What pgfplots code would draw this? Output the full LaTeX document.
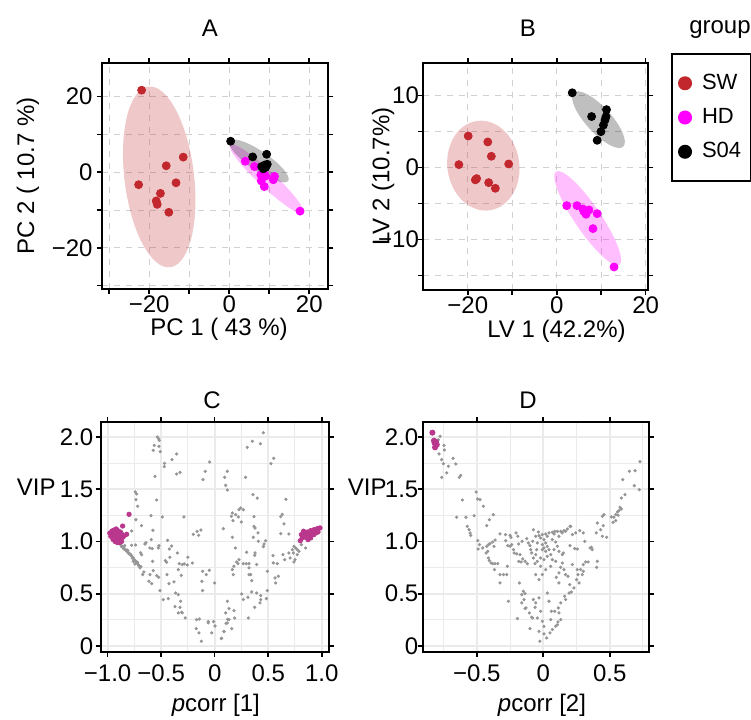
\documentclass[border=0pt]{standalone}
\usepackage{fontspec}
\setmainfont{Liberation Sans}
\usepackage{pgfplots}
\pgfplotsset{compat=1.18}

\definecolor{swred}{RGB}{193,39,45}
\definecolor{hdmag}{RGB}{255,0,255}
\definecolor{vipmag}{RGB}{185,55,140}
\definecolor{dotgray}{RGB}{150,150,150}
\definecolor{gridgray}{RGB}{235,235,235}

\newcommand{\fs}{\fontsize{12}{14}\selectfont}
% confidence ellipse: colour, centre x, centre y, semi-axis u (x,y), semi-axis v (x,y)
\newcommand{\confell}[7]{%
  \pgfplotsextra{\begin{pgfscope}
    \pgfpathellipse{\pgfplotspointaxisxy{#2}{#3}}%
      {\pgfplotspointaxisdirectionxy{#4}{#5}}{\pgfplotspointaxisdirectionxy{#6}{#7}}%
    \pgfsetfillcolor{#1}\pgfsetfillopacity{0.25}\pgfusepath{fill}%
  \end{pgfscope}}}

\pgfplotsset{
  base/.style={scale only axis, axis line style={line width=1pt},
    tick align=outside, major tick length=2.5pt, minor tick length=2.5pt,
    tick style={black, line width=0.8pt},
    tick label style={font=\fs, inner sep=1pt}, label style={font=\fs, inner sep=0pt},
    /pgf/number format/assume math mode=true},
  score/.style={base, grid=both,
    major grid style={dashed, black!18, line width=0.5pt},
    minor grid style={dashed, black!18, line width=0.5pt},
    xticklabel style={yshift=0.5pt}},
  load/.style={base, grid=both,
    major grid style={gridgray, line width=0.9pt},
    minor grid style={gridgray, line width=0.45pt}, minor tick length=0pt,
    xticklabel style={yshift=-3pt}},
}

\begin{document}
\begin{tikzpicture}[font=\fs]
\useasboundingbox (0,0) rectangle (375.5pt,359.5pt);

% ---------------- A : PCA scores
\begin{axis}[score, at={(51pt,215pt)}, anchor=south west,
  width=113.15pt, height=113pt,
  xmin=-31.8, xmax=24.75, ymin=-30.9, ymax=28.9,
  xtick={-20,0,20}, xticklabels={−20,0,20}, minor xtick={-30,-10,10},
  ytick={-20,0,20}, yticklabels={−20,0,20}, minor ytick={-30,-10,10},
  yticklabel style={xshift=-1pt},
  xlabel={PC 1 ( 43 \%)}, ylabel={PC 2 ( 10.7 \%)},
  xlabel style={at={(axis description cs:0.517,-0.18)}, anchor=center},
  ylabel style={at={(axis description cs:-0.327,0.5)}, anchor=center}]
\confell{swred}{-17.5}{-1.24}{-2.72}{23.9}{8.64}{1.11}
\confell{hdmag}{9.35}{-1.77}{9.17}{-9.08}{1.42}{1.6}
\confell{black}{7.4}{3.0}{7.33}{-5.29}{1.4}{2.1}
\addplot[only marks, mark=*, color=swred, mark size=2pt] coordinates {
(-21.9,21.7) (-11.5,4.0) (-15.75,1.7) (-22.65,-3.3) (-13.3,-2.8)
(-17.2,-5.6) (-18.25,-7.6) (-18,-8.5) (-15.1,-10.6)};
\addplot[only marks, mark=*, color=hdmag, mark size=2pt] coordinates {
(4.0,2.9) (6.3,1.5) (7.9,-0.7) (9.1,-1.0) (8.0,-2.3) (8.75,-3.8)
(11.0,-2.0) (11.3,-1.1) (17.7,-10.3) (8.6,-0.2)};
\addplot[only marks, mark=*, color=black, mark size=2pt] coordinates {
(0.35,8.2) (5.85,4.05) (9.35,4.75) (8.1,1.5) (8.9,1.9) (9.5,2.1) (8.5,0.9) (9.1,1.3)};
\end{axis}

% ---------------- B : PLS-DA scores
\begin{axis}[score, at={(211.65pt,214.5pt)}, anchor=south west,
  width=112.5pt, height=113.35pt,
  xmin=-30, xmax=20.6, ymin=-17, ymax=14.5,
  xtick={-20,0,20}, xticklabels={−20,0,20}, minor xtick={-10,10},
  ytick={-10,0,10}, yticklabels={−10,0,10}, minor ytick={-15,-5,5},
  yticklabel style={xshift=1.5pt},
  xlabel={LV 1 (42.2\%)}, ylabel={LV 2 (10.7\%)},
  xlabel style={at={(axis description cs:0.592,-0.18)}, anchor=center},
  ylabel style={at={(axis description cs:-0.178,0.5)}, anchor=center},
  legend style={at={(axis description cs:1.101,1.045)}, anchor=north west,
    draw=black, line width=1pt, font=\fontsize{11}{13}\selectfont, row sep=4pt,
    inner xsep=3pt, inner ysep=8pt, cells={anchor=west}},
  legend image code/.code={\fill (5pt,0pt) circle (3pt); \path (11pt,0pt);}]
\confell{swred}{-16.5}{0.28}{-1.5}{6.2}{8.0}{0.74}
\confell{hdmag}{6.97}{-7.03}{7.12}{-6.48}{2.42}{1.01}
\confell{black}{9.4}{6.67}{5.55}{-3.75}{2.1}{1.19}
\addplot[only marks, mark=*, color=swred, mark size=2pt] coordinates {
(-19.9,4.4) (-15.5,3.57) (-14.7,1.58) (-22.0,0.42) (-10.8,0.51)
(-18.3,-1.7) (-18.0,-1.52) (-15.3,-2.08) (-13.8,-2.87)};
\addlegendentry{SW}
\addplot[only marks, mark=*, color=hdmag, mark size=2pt] coordinates {
(2.25,-5.28) (4.56,-5.28) (5.9,-5.74) (6.13,-6.1) (6.6,-6.47)
(7.26,-5.88) (9.1,-6.39) (8.16,-8.47) (12.9,-13.8)};
\addlegendentry{HD}
\addplot[only marks, mark=*, color=black, mark size=2pt] coordinates {
(3.5,10.4) (7.85,7.1) (11.2,8.06) (11.1,7.1) (10.85,6.6) (10.5,5.9) (9.95,5.0) (9.1,3.8)};
\addlegendentry{S04}
\end{axis}

% ---------------- C : VIP vs pcorr[1]
\begin{axis}[load, at={(50.35pt,33.65pt)}, anchor=south west,
  width=114.3pt, height=114.85pt,
  xmin=-1.065, xmax=1.071, ymin=-0.055, ymax=2.144,
  xtick={-1,-0.5,0,0.5,1}, xticklabels={−1.0,−0.5,0,0.5,1.0},
  minor xtick={-0.75,-0.25,0.25,0.75},
  ytick={0,0.5,1,1.5,2}, yticklabels={0,0.5,1.0,1.5,2.0},
  minor ytick={0.25,0.75,1.25,1.75},
  xlabel={\textit{p}corr [1]}, ylabel={VIP},
  xlabel style={at={(axis description cs:0.504,-0.232)}, anchor=center},
  ylabel style={rotate=-90, at={(axis description cs:-0.282,0.717)}, anchor=center}]
\addplot[only marks, mark=*, color=dotgray, mark size=0.6pt] coordinates {
(-0.536,2.000) (-0.524,1.984) (-0.517,1.968) (-0.564,1.920) (-0.521,1.911)
(-0.574,1.873) (-0.508,1.860) (-0.355,1.838) (-0.399,1.783) (-0.468,1.748)
(-0.471,1.716) (-0.047,1.761) (-0.088,1.672) (-0.324,1.662) (-0.355,1.646)
(-0.109,1.592) (-0.558,1.624) (-0.742,1.474) (-0.729,1.455) (-0.736,1.401)
(-0.542,1.397) (-0.720,1.337) (-0.595,1.247) (-0.489,1.235) (-0.287,1.235)
(-0.736,1.209) (-0.683,1.152) (-0.128,1.110) (-0.165,1.097) (-0.200,1.069)
(-0.150,1.059) (-0.577,1.107) (-0.776,1.101)
(-0.891,0.995) (-0.879,0.970) (-0.860,0.954) (-0.848,0.938) (-0.838,0.922)
(-0.823,0.906) (-0.807,0.890) (-0.792,0.881) (-0.776,0.858) (-0.760,0.842)
(-0.751,0.826) (-0.736,0.810) (-0.729,0.794) (-0.714,0.779) (-0.760,0.810)
(-0.745,0.785) (-0.704,0.763) (-0.698,0.747) (-0.683,0.874) (-0.692,0.893)
(-0.776,0.964) (-0.739,0.967) (-0.651,0.976) (-0.642,0.989) (-0.605,0.938)
(-0.583,0.932) (-0.592,1.018) (-0.521,0.960) (-0.527,0.938) (-0.440,1.011)
(-0.402,0.957) (-0.424,0.928) (-0.461,0.817) (-0.449,0.801) (-0.418,0.849)
(-0.349,0.890) (-0.331,0.788) (-0.303,0.779) (-0.250,0.849) (-0.256,0.775)
(-0.284,0.785) (-0.580,0.810) (-0.661,0.708) (-0.673,0.683) (-0.605,0.683)
(-0.574,0.721) (-0.614,0.619) (-0.589,0.597) (-0.542,0.673) (-0.524,0.657)
(-0.511,0.530) (-0.446,0.683) (-0.427,0.597) (-0.380,0.613) (-0.340,0.731)
(-0.312,0.676) (-0.209,0.794) (-0.113,0.715) (-0.050,0.724) (-0.078,0.683)
(-0.119,0.619) (-0.113,0.530) (-0.480,0.444) (-0.433,0.453) (-0.365,0.507)
(-0.340,0.491) (-0.318,0.428) (-0.324,0.370) (-0.371,0.377) (-0.309,0.322)
(-0.340,0.316) (-0.303,0.316) (-0.275,0.268) (-0.169,0.252) (-0.144,0.258)
(-0.060,0.220) (-0.172,0.166) (-0.147,0.125) (-0.125,0.045) (-0.028,0.125)
(-0.060,0.233) (-0.010,0.233) (0.003,0.191) (0.065,0.074) (0.087,0.137)
(0.106,0.217) (0.121,0.255)
(-0.87,0.95) (-0.85,0.93) (-0.82,0.92) (-0.80,0.88) (-0.78,0.87) (-0.77,0.84)
(-0.75,0.82) (-0.72,0.80) (-0.71,0.77) (-0.69,0.76) (-0.84,0.96) (-0.81,0.91)
(0.455,2.042) (0.352,1.959) (0.427,1.936) (0.305,1.901) (0.551,1.796)
(0.526,1.745) (0.118,1.672) (0.093,1.614) (0.289,1.614) (0.103,1.538)
(0.118,1.493) (0.358,1.448) (0.398,1.416) (0.666,1.404) (0.243,1.321)
(0.268,1.305) (0.227,1.305) (0.165,1.273) (0.196,1.257) (0.156,1.241)
(0.221,1.235) (0.367,1.238) (0.632,1.260) (0.617,1.238) (0.171,1.200)
(0.249,1.187) (0.367,1.145) (0.377,1.129) (0.081,1.123) (0.648,1.168)
(0.617,1.075) (0.694,1.072) (0.405,1.082) (0.361,1.040) (0.165,1.040)
(0.476,1.008) (0.461,0.976) (0.408,1.002) (0.455,0.951) (0.193,0.938)
(0.741,0.954) (0.757,0.938) (0.772,0.922) (0.788,0.906) (0.726,0.922)
(0.735,0.890) (0.772,0.874) (0.751,0.826) (0.741,0.804) (0.704,0.842)
(0.654,0.826) (0.638,0.874) (0.694,0.890) (0.850,0.938) (0.810,0.970)
(0.299,0.897) (0.377,0.890) (0.374,0.868) (0.227,0.826) (0.205,0.804)
(0.218,0.788) (0.268,0.788) (0.296,0.788) (0.321,0.788) (0.392,0.779)
(0.180,0.763) (0.165,0.731) (0.174,0.683) (0.321,0.747) (0.336,0.683)
(0.321,0.683) (0.346,0.625) (0.492,0.715) (0.545,0.865) (0.548,0.795)
(0.585,0.788) (0.595,0.667) (0.564,0.651) (0.570,0.603) (0.252,0.498)
(0.268,0.444) (0.311,0.466) (0.346,0.517) (0.392,0.507) (0.430,0.482)
(0.430,0.444) (0.423,0.412) (0.492,0.530) (0.483,0.453) (0.374,0.370)
(0.315,0.268) (0.118,0.428) (0.134,0.358) (0.103,0.316) (0.180,0.338)
(0.187,0.268) (0.134,0.252) (0.118,0.220) (0.159,0.166) (0.087,0.140)
(0.062,0.070) (0.000,0.603)};
\addplot[only marks, mark=*, color=vipmag, mark size=1.1pt] coordinates {
(-0.96,1.10) (-0.95,1.07) (-0.97,1.05) (-0.94,1.04) (-0.93,1.09) (-0.92,1.06)
(-0.91,1.03) (-0.90,1.08) (-0.95,1.02) (-0.93,1.00) (-0.91,0.99) (-0.89,1.05)
(-0.88,1.02) (-0.87,1.07) (-0.86,1.04) (-0.89,0.99) (-0.96,1.09) (-0.94,1.11)
(-0.92,1.12) (-0.90,1.10) (-0.88,1.09) (-0.85,1.05) (-0.87,1.00) (-0.95,1.05)
(-0.98,1.08) (-0.86,1.148) (-0.80,1.26) (-0.823,1.069)
(0.81,1.066) (0.835,1.082) (0.866,1.091) (0.897,1.104) (0.928,1.113) (0.959,1.123)
(0.984,1.13) (0.819,1.034) (0.85,1.04) (0.881,1.059) (0.912,1.072) (0.944,1.082)
(0.966,1.091) (0.83,1.098) (0.86,1.05) (0.897,1.034) (0.928,1.066) (0.872,1.018)
(0.80,1.008) (0.912,1.097) (0.953,1.104) (0.844,1.066)};
\end{axis}

% ---------------- D : VIP vs pcorr[2]
\begin{axis}[load, at={(211.35pt,33.65pt)}, anchor=south west,
  width=113.15pt, height=114.85pt,
  xmin=-0.908, xmax=0.796, ymin=-0.055, ymax=2.144,
  xtick={-0.5,0,0.5}, xticklabels={−0.5,0,0.5},
  minor xtick={-0.75,-0.25,0.25,0.75},
  ytick={0,0.5,1,1.5,2}, yticklabels={0,0.5,1.0,1.5,2.0},
  minor ytick={0.25,0.75,1.25,1.75},
  yticklabel style={xshift=1.5pt},
  xlabel={\textit{p}corr [2]}, ylabel={VIP},
  xlabel style={at={(axis description cs:0.527,-0.232)}, anchor=center},
  ylabel style={rotate=-90, at={(axis description cs:-0.245,0.717)}, anchor=center}]
\addplot[only marks, mark=*, color=dotgray, mark size=0.6pt] coordinates {
(-0.777,2.007) (-0.790,1.975) (-0.797,1.933) (-0.747,1.920) (-0.745,1.876)
(-0.785,1.838) (-0.765,1.783) (-0.679,1.796) (-0.659,1.742) (-0.752,1.745)
(-0.715,1.720) (-0.727,1.656) (-0.765,1.614) (-0.632,1.614) (-0.622,1.633)
(-0.506,1.474) (-0.494,1.407) (-0.476,1.401) (-0.609,1.397) (-0.451,1.337)
(-0.652,1.232) (-0.582,1.232) (-0.521,1.247) (-0.376,1.257) (-0.406,1.209)
(-0.426,1.152) (-0.572,1.145) (-0.559,1.113) (-0.551,1.082) (-0.546,1.059)
(-0.494,1.008) (-0.481,0.970) (-0.456,0.938) (-0.491,0.928) (-0.426,0.954)
(-0.413,0.970) (-0.401,0.979) (-0.381,0.995) (-0.363,1.014) (-0.371,0.954)
(-0.418,0.906) (-0.431,0.890) (-0.413,0.842) (-0.406,0.817) (-0.393,0.794)
(-0.381,0.788) (-0.363,0.788) (-0.343,0.788) (-0.368,0.731) (-0.326,0.683)
(-0.326,0.603) (-0.326,1.072) (-0.285,1.066) (-0.250,1.059) (-0.283,1.008)
(-0.268,0.960) (-0.250,0.954) (-0.238,0.970) (-0.205,1.082) (-0.192,1.050)
(-0.185,0.976) (-0.160,1.002) (-0.243,1.040) (-0.225,0.922) (-0.220,0.890)
(-0.200,0.881) (-0.175,0.874) (-0.185,0.810) (-0.167,0.804) (-0.155,0.833)
(-0.137,0.810) (-0.120,0.788) (-0.270,0.763) (-0.275,0.683) (-0.300,0.683)
(-0.180,0.603) (-0.150,0.523) (-0.137,0.501) (-0.162,0.491) (-0.145,0.444)
(-0.162,0.412) (-0.137,0.358) (-0.130,0.364) (-0.263,0.428) (-0.195,0.262)
(-0.100,0.166) (-0.105,0.316) (-0.087,0.275) (-0.125,1.027) (-0.112,0.986)
(-0.100,0.960) (-0.095,0.922) (-0.080,1.002) (-0.075,1.113) (-0.087,0.890)
(-0.075,0.842) (-0.062,0.788) (-0.075,0.444) (-0.062,0.370) (-0.080,0.268)
(0.728,1.764) (0.691,1.678) (0.648,1.672) (0.598,1.592) (0.685,1.534)
(0.723,1.496) (0.615,1.448) (0.588,1.416) (0.578,1.327) (0.588,1.311)
(0.570,1.295) (0.558,1.282) (0.563,1.251) (0.545,1.257) (0.532,1.232)
(0.512,1.235) (0.545,1.200) (0.525,1.184) (0.457,1.257) (0.445,1.241)
(0.407,1.177) (0.452,1.152) (0.432,1.113) (0.445,1.050) (0.477,1.040)
(0.399,1.082) (0.312,1.002) (0.352,0.938) (0.369,0.922) (0.362,0.944)
(0.274,1.104) (0.301,1.082) (0.206,1.145) (0.256,0.928) (0.236,0.932)
(0.201,0.960) (0.319,0.804) (0.301,0.779) (0.337,0.804) (0.407,0.810)
(0.402,0.753) (0.256,0.731) (0.281,0.731) (0.301,0.715) (0.294,0.683)
(0.261,0.683) (0.269,0.603) (0.251,0.635) (0.219,0.779) (0.186,0.667)
(0.199,0.587) (0.231,0.555) (0.211,0.517) (0.194,0.507) (0.168,0.444)
(0.143,0.874) (0.143,0.794) (0.131,0.753) (0.156,0.731) (0.168,0.683)
(0.118,0.699) (0.098,0.657) (0.118,0.603) (0.161,0.476) (0.131,0.412)
(0.113,0.364) (0.086,0.332) (0.118,0.316) (0.131,0.252) (0.111,0.230)
(0.106,0.204) (0.093,0.188) (0.068,0.157) (0.050,0.125) (0.025,0.077)
(-0.025,0.045) (0.056,0.252) (0.061,0.332) (0.043,0.428) (0.030,0.507)
(-0.032,0.460) (-0.020,0.332) (-0.057,0.412) (-0.045,0.268) (-0.007,0.236)
(0.005,0.188) (-0.032,0.140) (0.005,0.115)
(0.201,1.145) (0.181,1.120) (0.156,1.104) (0.131,1.097) (0.106,1.097)
(0.086,1.097) (0.068,1.088) (0.043,1.082) (0.018,1.072) (-0.007,1.066)
(-0.032,1.056) (-0.057,1.050) (0.081,1.072) (0.143,1.082) (0.168,1.097)
(0.030,1.050) (-0.020,1.034) (0.005,1.018) (0.018,0.986) (-0.007,0.970)
(0.030,0.954) (0.005,0.938) (0.043,0.922) (0.018,0.906) (-0.007,0.922)
(0.068,1.018) (0.093,0.995) (0.106,0.954) (0.081,0.922) (0.118,0.906)
(0.151,0.890) (0.056,0.874) (0.030,0.858) (0.005,0.826) (-0.020,0.842)
(-0.045,0.810) (0.068,0.826) (0.093,0.810) (-0.045,0.986) (-0.050,0.922)
(-0.057,0.874) (0.056,0.763) (0.018,0.731) (-0.007,0.683) (-0.032,0.635)
(-0.057,0.683) (-0.020,0.763) (0.244,1.082) (0.219,1.066) (-0.037,1.091)
(0.118,1.050)};
\addplot[only marks, mark=*, color=vipmag, mark size=1.3pt] coordinates {
(-0.835,2.042) (-0.823,1.965) (-0.808,1.952) (-0.815,1.901) (-0.802,1.927) (-0.818,1.943)};
\end{axis}

% panel titles
\node at (105pt,345.5pt) {A};
\node at (264pt,345.5pt) {B};
\node at (106pt,159.5pt) {C};
\node at (264pt,159.5pt) {D};
\node at (360pt,344.5pt) {group};
\end{tikzpicture}
\end{document}
